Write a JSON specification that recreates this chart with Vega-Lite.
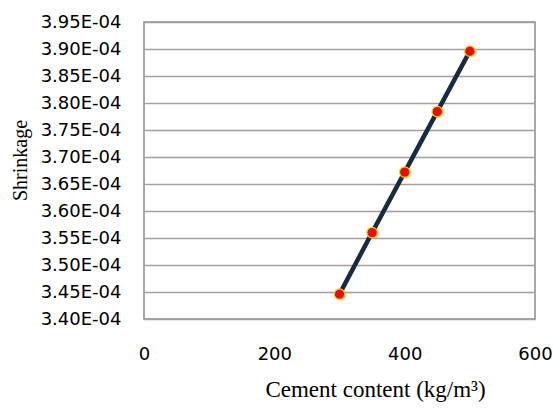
{
  "$schema": "https://vega.github.io/schema/vega-lite/v6.json",
  "autosize": {"type": "none"},
  "width": 391,
  "height": 297,
  "padding": {"left": 144, "top": 22, "right": 18, "bottom": 91},
  "background": "white",
  "config": {
    "view": {"stroke": "#8a8a8a", "strokeWidth": 1.5},
    "axis": {"domain": false, "ticks": false}
  },
  "data": {
    "values": [
      {"cement": 300, "shrinkage": 0.0003446},
      {"cement": 350, "shrinkage": 0.0003560},
      {"cement": 400, "shrinkage": 0.0003672},
      {"cement": 450, "shrinkage": 0.0003784},
      {"cement": 500, "shrinkage": 0.0003896}
    ]
  },
  "encoding": {
    "x": {
      "field": "cement", "type": "quantitative",
      "scale": {"domain": [0, 600], "nice": false, "zero": false},
      "axis": {
        "title": "Cement content (kg/m³)",
        "values": [0, 200, 400, 600],
        "grid": false,
        "labelFont": "DejaVu Sans", "labelFontSize": 18, "labelColor": "#000",
        "labelPadding": 26, "labelFlush": false,
        "titleFont": "Liberation Serif", "titleFontSize": 23, "titleFontWeight": "normal", "titleColor": "#000",
        "titlePadding": 15, "titleX": 231
      }
    },
    "y": {
      "field": "shrinkage", "type": "quantitative",
      "scale": {"domain": [0.00034, 0.000395], "nice": false, "zero": false},
      "axis": {
        "title": "Shrinkage",
        "values": [0.00034, 0.000345, 0.00035, 0.000355, 0.00036, 0.000365, 0.00037, 0.000375, 0.00038, 0.000385, 0.00039, 0.000395],
        "labelExpr": "replace(upper(format(datum.value, '.2e')), 'E-', 'E-0')",
        "grid": true, "gridColor": "#a0a0a0", "gridWidth": 1.5,
        "labelFont": "DejaVu Sans", "labelFontSize": 18, "labelColor": "#000",
        "labelPadding": 23,
        "titleFont": "Liberation Serif", "titleFontSize": 20, "titleFontWeight": "normal", "titleColor": "#000",
        "titlePadding": 10, "titleY": 138
      }
    }
  },
  "layer": [
    {"mark": {"type": "line", "color": "#172b45", "strokeWidth": 4.5}},
    {"mark": {"type": "point", "filled": true, "fill": "#ff0000", "stroke": "#ffd700", "strokeWidth": 1.2, "size": 110, "opacity": 1}}
  ]
}
